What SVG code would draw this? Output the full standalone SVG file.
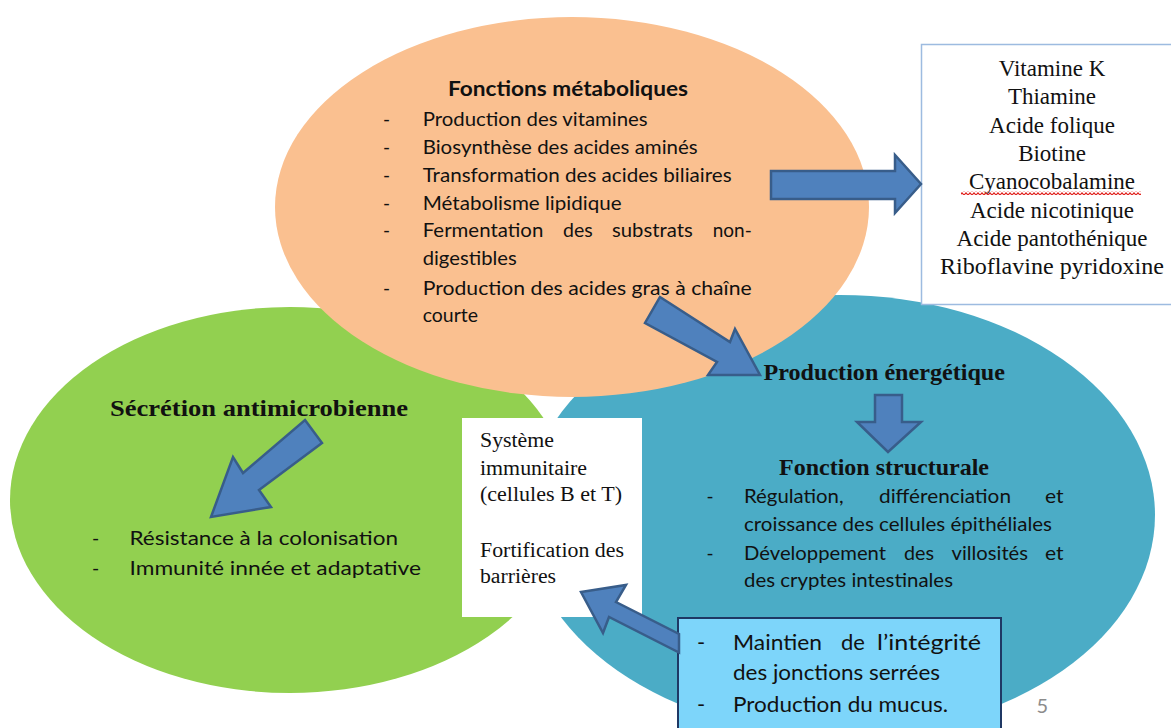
<svg xmlns="http://www.w3.org/2000/svg" width="1171" height="728" viewBox="0 0 1171 728">
<defs>
<style>
.sans{font-family:Lato,"Noto Sans",sans-serif;fill:#111;}
.serif{font-family:"Liberation Serif","Times New Roman",serif;fill:#111;}
.b{font-weight:bold;}
.arrow{fill:#4f81bd;stroke:#385d8a;stroke-width:2.5;stroke-linejoin:miter;}
</style>
<pattern id="wave" width="4" height="4" patternUnits="userSpaceOnUse">
<path d="M0,3.2 L2,0.8 L4,3.2" fill="none" stroke="#e0201c" stroke-width="1.1"/>
</pattern>
</defs>
<rect width="1171" height="728" fill="#ffffff"/>

<g id="green-node">
<ellipse cx="290" cy="500" rx="280" ry="193" fill="#92d050"/>
</g>
<g id="blue-node">
<ellipse cx="840" cy="515" rx="315" ry="220" fill="#4bacc6"/>
</g>
<g id="orange-node">
<ellipse cx="572" cy="207" rx="297" ry="190" fill="#fac090"/>
</g>
<g id="vitamins-box">
<rect x="921.5" y="44.5" width="262" height="260" fill="#ffffff" stroke="#9dbbe0" stroke-width="1.5"/>
</g>
<g id="immune-box">
<rect x="462" y="418" width="180" height="199" fill="#ffffff"/>
</g>
<g id="barrier-box">
<rect x="678" y="618" width="323" height="120" fill="#7dd5fa" stroke="#1f3864" stroke-width="2"/>
</g>

<g id="connectors">
<polygon class="arrow" points="771,171 895,171 895,155 921,184 895,213 895,199 771,199"/>
<polygon class="arrow" points="660,297 730,342 735,329 760,375 708,375 717,362 645,323"/>
<polygon class="arrow" points="875,395 902,395 902,422 921,422 888,452 857,422 875,422"/>
<polygon class="arrow" points="305,420 322,443 259,490 271,507 211,517 233,457 243,473"/>
<polygon class="arrow" points="581,592 626,585 616,602 679,634 679,652.5 609,617 603,633"/>
</g>

<g id="orange-text">
<text class="sans b" x="448" y="96" font-size="21" textLength="240" lengthAdjust="spacingAndGlyphs">Fonctions métaboliques</text>
<g class="sans" font-size="19">
<text x="383" y="126">-</text>
<text x="422.7" y="126" textLength="225" lengthAdjust="spacingAndGlyphs">Production des vitamines</text>
<text x="383" y="154">-</text>
<text x="422.7" y="154" textLength="275" lengthAdjust="spacingAndGlyphs">Biosynthèse des acides aminés</text>
<text x="383" y="182">-</text>
<text x="422.7" y="182" textLength="309" lengthAdjust="spacingAndGlyphs">Transformation des acides biliaires</text>
<text x="383" y="210">-</text>
<text x="422.7" y="210" textLength="199" lengthAdjust="spacingAndGlyphs">Métabolisme lipidique</text>
<text x="383" y="237">-</text>
<text x="422.7" y="237" textLength="120.6" lengthAdjust="spacingAndGlyphs">Fermentation</text>
<text x="563" y="237" textLength="29.7" lengthAdjust="spacingAndGlyphs">des</text>
<text x="612" y="237" textLength="80.7" lengthAdjust="spacingAndGlyphs">substrats</text>
<text x="712.7" y="237" textLength="39" lengthAdjust="spacingAndGlyphs">non-</text>
<text x="422.7" y="265" textLength="94" lengthAdjust="spacingAndGlyphs">digestibles</text>
<text x="383" y="295">-</text>
<text x="422.7" y="295" textLength="329" lengthAdjust="spacingAndGlyphs">Production des acides gras à chaîne</text>
<text x="422.7" y="322" textLength="55.3" lengthAdjust="spacingAndGlyphs">courte</text>
</g>
</g>

<g id="vitamins-text" class="serif" font-size="23" text-anchor="middle">
<text x="1052" y="76">Vitamine K</text>
<text x="1052" y="104.3">Thiamine</text>
<text x="1052" y="132.6">Acide folique</text>
<text x="1052" y="160.9">Biotine</text>
<text x="1052" y="189.2">Cyanocobalamine</text>
<text x="1052" y="217.5">Acide nicotinique</text>
<text x="1052" y="245.8">Acide pantothénique</text>
<text x="1052" y="274.1" textLength="224" lengthAdjust="spacingAndGlyphs">Riboflavine pyridoxine</text>
<rect x="961" y="191" width="180" height="4" fill="url(#wave)"/>
</g>

<g id="green-text">
<text class="serif b" x="110" y="416" font-size="24" textLength="298" lengthAdjust="spacingAndGlyphs">Sécrétion antimicrobienne</text>
<g class="sans" font-size="19.5">
<text x="92" y="545">-</text>
<text x="129.5" y="545" textLength="268.5" lengthAdjust="spacingAndGlyphs">Résistance à la colonisation</text>
<text x="92" y="575">-</text>
<text x="129.5" y="575" textLength="291.5" lengthAdjust="spacingAndGlyphs">Immunité innée et adaptative</text>
</g>
</g>

<g id="immune-text" class="serif" font-size="20">
<text x="480" y="447" textLength="74" lengthAdjust="spacingAndGlyphs">Système</text>
<text x="480" y="475" textLength="107" lengthAdjust="spacingAndGlyphs">immunitaire</text>
<text x="480" y="501" textLength="142" lengthAdjust="spacingAndGlyphs">(cellules B et T)</text>
<text x="480" y="556.5" textLength="144" lengthAdjust="spacingAndGlyphs">Fortification des</text>
<text x="480" y="583" textLength="76" lengthAdjust="spacingAndGlyphs">barrières</text>
</g>

<g id="blue-text">
<text class="serif b" x="763.5" y="380" font-size="23" textLength="241.5" lengthAdjust="spacingAndGlyphs">Production énergétique</text>
<text class="serif b" x="779" y="475" font-size="23" textLength="210" lengthAdjust="spacingAndGlyphs">Fonction structurale</text>
<g class="sans" font-size="19">
<text x="706.5" y="503">-</text>
<text x="744" y="503" textLength="99.6" lengthAdjust="spacingAndGlyphs">Régulation,</text>
<text x="879" y="503" textLength="132" lengthAdjust="spacingAndGlyphs">différenciation</text>
<text x="1045" y="503" textLength="18.6" lengthAdjust="spacingAndGlyphs">et</text>
<text x="744" y="531" textLength="308" lengthAdjust="spacingAndGlyphs">croissance des cellules épithéliales</text>
<text x="706.5" y="560">-</text>
<text x="744" y="560" textLength="142" lengthAdjust="spacingAndGlyphs">Développement</text>
<text x="904" y="560" textLength="30" lengthAdjust="spacingAndGlyphs">des</text>
<text x="951.5" y="560" textLength="76.5" lengthAdjust="spacingAndGlyphs">villosités</text>
<text x="1045" y="560" textLength="18.6" lengthAdjust="spacingAndGlyphs">et</text>
<text x="744" y="587" textLength="209" lengthAdjust="spacingAndGlyphs">des cryptes intestinales</text>
</g>
</g>

<g id="barrier-text" class="sans" font-size="22">
<text x="697" y="650">-</text>
<text x="733" y="650" textLength="89" lengthAdjust="spacingAndGlyphs">Maintien</text>
<text x="853" y="650" text-anchor="middle">de</text>
<text x="877" y="650" textLength="104" lengthAdjust="spacingAndGlyphs">l’intégrité</text>
<text x="733" y="680" textLength="207" lengthAdjust="spacingAndGlyphs">des jonctions serrées</text>
<text x="697" y="712">-</text>
<text x="733" y="712" textLength="215" lengthAdjust="spacingAndGlyphs">Production du mucus.</text>
</g>

<g id="page-number">
<text class="sans" x="1036.5" y="713" font-size="20" style="fill:#8c8c8c">5</text>
</g>
</svg>
